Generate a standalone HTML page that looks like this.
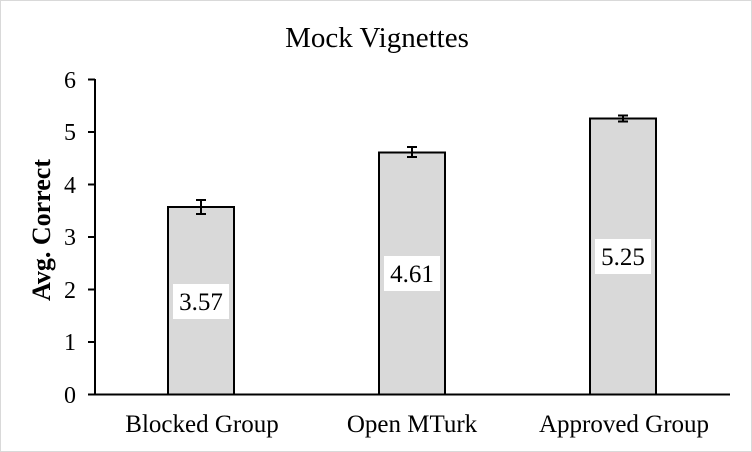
<!DOCTYPE html>
<html><head><style>body{margin:0;background:#fff}svg{display:block}</style></head><body>
<svg width="752" height="452" xmlns="http://www.w3.org/2000/svg" font-family="Liberation Serif, serif">
<rect x="0.5" y="0.5" width="751" height="451" fill="#fff" stroke="#d9d9d9"/>
<text x="377" y="47" font-size="29" text-anchor="middle">Mock Vignettes</text>
<g stroke="#000" stroke-width="2" fill="none">
<line x1="95" y1="79" x2="95" y2="395"/>
<line x1="88" y1="394.5" x2="730" y2="394.5"/>
<line x1="88" y1="79.5" x2="95" y2="79.5"/>
<line x1="88" y1="132" x2="95" y2="132"/>
<line x1="88" y1="184.5" x2="95" y2="184.5"/>
<line x1="88" y1="237" x2="95" y2="237"/>
<line x1="88" y1="289.5" x2="95" y2="289.5"/>
<line x1="88" y1="342" x2="95" y2="342"/>
</g>
<g font-size="24" text-anchor="end">
<text x="76" y="88">6</text><text x="76" y="140">5</text><text x="76" y="193">4</text>
<text x="76" y="245">3</text><text x="76" y="298">2</text><text x="76" y="350">1</text><text x="76" y="403">0</text>
</g>
<text transform="translate(50,230) rotate(-90)" font-size="26" font-weight="bold" text-anchor="middle">Avg. Correct</text>
<g fill="#d9d9d9" stroke="#000" stroke-width="2">
<rect x="168" y="207" width="66" height="187.5"/>
<rect x="379" y="152.5" width="66" height="242"/>
<rect x="590" y="118.5" width="66" height="276"/>
</g>
<g stroke="#000" stroke-width="2">
<line x1="201" y1="200" x2="201" y2="214"/><line x1="196" y1="200" x2="206" y2="200"/><line x1="196" y1="214" x2="206" y2="214"/>
<line x1="412" y1="147" x2="412" y2="157"/><line x1="407" y1="147" x2="417" y2="147"/><line x1="407" y1="157" x2="417" y2="157"/>
<line x1="623" y1="115.5" x2="623" y2="121.5"/><line x1="618" y1="115.5" x2="628" y2="115.5"/><line x1="618" y1="121.5" x2="628" y2="121.5"/>
</g>
<g fill="#fff"><rect x="173" y="284" width="56" height="35"/><rect x="384" y="256" width="56" height="35"/><rect x="595" y="239" width="56" height="35"/></g>
<g font-size="25" text-anchor="middle">
<text x="201" y="310">3.57</text><text x="412" y="282">4.61</text><text x="623" y="265">5.25</text>
</g>
<g font-size="25" text-anchor="middle">
<text x="202" y="432">Blocked Group</text><text x="412" y="432">Open MTurk</text><text x="624" y="432">Approved Group</text>
</g>
</svg>
</body></html>
